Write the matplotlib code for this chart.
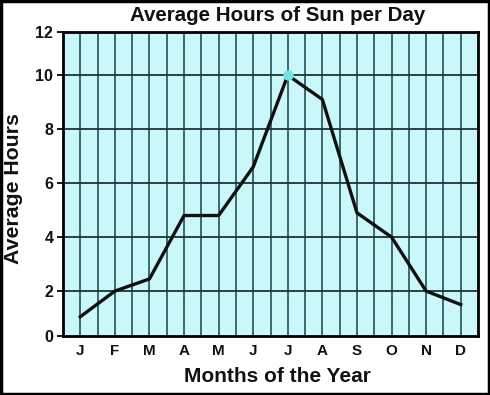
import matplotlib
matplotlib.use("Agg")
import matplotlib.pyplot as plt
from matplotlib.patches import Rectangle

months = ["J", "F", "M", "A", "M", "J", "J", "A", "S", "O", "N", "D"]
hours = [1.05, 2.0, 2.45, 4.8, 4.8, 6.6, 10.0, 9.1, 4.9, 4.0, 2.0, 1.5]
peak_index = 6
y_grid = [2, 4, 6, 8, 10]
y_low, y_high = 0.33, 11.6
y_labels = ["0", "2", "4", "6", "8", "10", "12"]

plt.rcParams['font.family'] = ['Liberation Sans', 'DejaVu Sans']

fig = plt.figure(figsize=(4.9, 3.95), dpi=100)
ax = fig.add_axes([0.1286, 0.149, 0.8469, 0.770])
ax.set_facecolor("#c9f7fa")

x = list(range(len(months)))
ax.set_xlim(-0.5, 11.5)
ax.set_ylim(y_low, y_high)

# grid
for i in range(0, 24):
    xv = -0.5 + 0.5 * i
    if xv > -0.5:
        ax.axvline(xv, color="#3c6a6c", lw=1.4, zorder=1)
for yv in y_grid:
    ax.axhline(yv, color="#1e3434", lw=1.3, zorder=1)

ax.plot(x, hours, color="#111111", lw=2.4, zorder=3)
ax.plot([x[peak_index]], [hours[peak_index]], 'o', color="#6fe3e6", ms=6.5, zorder=4)

ax.set_xticks(x)
ax.set_xticklabels(months, fontsize=11, fontweight="bold", color="#111111")
ax.tick_params(axis="x", length=0, pad=6)
ax.set_yticks([y_low] + y_grid + [y_high])
ax.set_yticklabels(y_labels, fontsize=11.5, fontweight="bold", color="#111111")
ax.tick_params(axis="y", length=4, width=1.3, pad=3)

for s in ax.spines.values():
    s.set_linewidth(2)
    s.set_color("#000000")
    s.set_zorder(5)

fig.text(0.567, 0.962, "Average Hours of Sun per Day", ha="center", va="center",
         fontsize=14.8, fontweight="bold", color="#111111")
fig.text(0.567, 0.046, "Months of the Year", ha="center", va="center",
         fontsize=15, fontweight="bold", color="#111111")
fig.text(0.027, 0.522, "Average Hours", ha="center", va="center", rotation=90,
         fontsize=15.3, fontweight="bold", color="#111111")

fig.patches.append(Rectangle((0.002, 0.002), 0.996, 0.996, transform=fig.transFigure,
                             fill=False, edgecolor="#000000", lw=2.5))

fig.savefig("out.png", dpi=100)
